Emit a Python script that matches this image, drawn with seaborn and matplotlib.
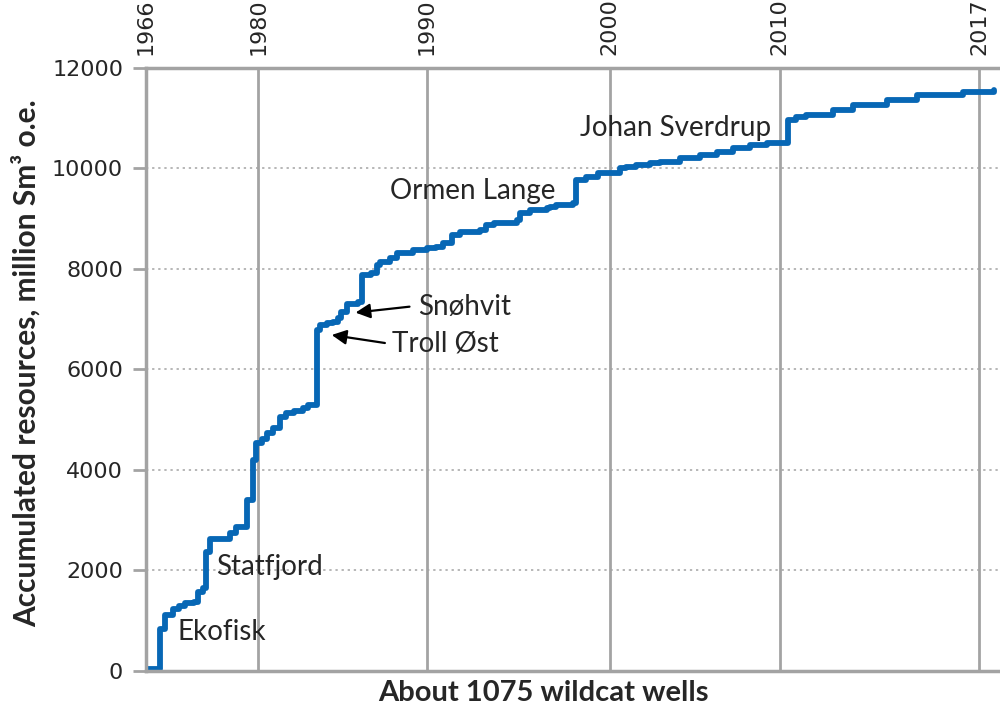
import numpy as np
import pandas as pd
import seaborn as sns
import matplotlib.pyplot as plt

# cumulative discovered resources, step after each wildcat well
wells = [0, 18, 24, 34, 42, 49, 60, 66, 72, 76, 81, 106, 114, 127, 135, 139,
         146, 152, 160, 169, 177, 186, 198, 204, 215, 219, 228, 236, 242, 246,
         253, 267, 272, 284, 291, 295, 307, 316, 337, 354, 366, 374, 385, 395,
         421, 429, 438, 467, 471, 484, 505, 509, 517, 538, 542, 555, 570, 597,
         605, 618, 635, 647, 673, 698, 719, 740, 761, 782, 809, 819, 832, 866,
         891, 933, 971, 1029, 1069]
resources = [30, 840, 1110, 1234, 1294, 1353, 1380, 1578, 1650, 2375, 2627,
             2746, 2872, 3403, 4199, 4537, 4620, 4736, 4836, 5061, 5141, 5181,
             5228, 5294, 6786, 6886, 6919, 6952, 7019, 7150, 7300, 7350, 7881,
             7914, 8080, 8146, 8212, 8312, 8378, 8411, 8444, 8511, 8677, 8743,
             8776, 8876, 8922, 8975, 9108, 9174, 9207, 9240, 9274, 9307, 9771,
             9837, 9904, 10004, 10036, 10070, 10103, 10136, 10203, 10269, 10335,
             10402, 10468, 10514, 10965, 11031, 11064, 11164, 11263, 11363,
             11462, 11529, 11562]

year_labels = ['1966', '1980', '1990', '2000', '2010', '2017']
year_wells = [0, 141.5, 353.5, 584, 798.5, 1049.5]

fields = ['Ekofisk', 'Statfjord', 'Ormen Lange', 'Johan Sverdrup']
field_x = [40, 88, 307, 547]
field_y = [776, 2070, 9552, 10806]

arrow_fields = ['Snøhvit', 'Troll Øst']
arrow_text_x = [343, 310]
arrow_text_y = [7244, 6527]
arrow_tail = [(332, 7250), (301, 6527)]
arrow_head = [(264, 7132), (234, 6687)]

df = pd.DataFrame({'well': wells, 'resources': resources})

sns.set_style('white')
plt.rcParams['font.family'] = ['DejaVu Sans']
grey = '#a3a3a3'

fig = plt.figure(figsize=(10, 7.18), dpi=100)
ax = fig.add_axes([0.146, 0.0655, 0.854, 0.8398])

sns.lineplot(data=df, x='well', y='resources', drawstyle='steps-post',
             estimator=None, color='#0767b5', lw=4.2, ax=ax)

ax.set_xlim(0, 1076)
ax.set_ylim(0, 12000)
ax.set_yticks(np.arange(0, 12001, 2000))
ax.tick_params(axis='y', labelsize=16, length=9.5, width=2, color=grey,
               pad=7, left=True)

ax.xaxis.tick_top()
ax.set_xticks(year_wells)
ax.set_xticklabels(year_labels, rotation=90)
ax.tick_params(axis='x', labelsize=16, length=0, pad=9)

ax.grid(axis='x', color=grey, lw=2, ls='-')
ax.grid(axis='y', color=grey, lw=1.1, ls=(0, (1.5, 2.5)))

for side in ['left', 'bottom', 'top']:
    ax.spines[side].set_color(grey)
    ax.spines[side].set_linewidth(2.5)
ax.spines['right'].set_visible(False)

ax.set_xlabel('About 1075 wildcat wells', fontsize=21, fontweight='bold',
              family='Lato')
ax.xaxis.set_label_position('bottom')
ax.xaxis.set_label_coords(0.465, -0.015)
ax.set_ylabel('Accumulated resources, million Sm³ o.e.', fontsize=21.5,
              fontweight='bold', family='Lato')
ax.yaxis.set_label_coords(-0.123, 0.51)

for name, x, y in zip(fields, field_x, field_y):
    ax.text(x, y, name, fontsize=20, family='Lato', va='center', ha='left')

for name, x, y, tail, head in zip(arrow_fields, arrow_text_x, arrow_text_y,
                                  arrow_tail, arrow_head):
    ax.text(x, y, name, fontsize=20, family='Lato', va='center', ha='left')
    ax.annotate('', xy=head, xytext=tail,
                arrowprops=dict(arrowstyle='-|>', color='black', lw=1.6,
                                mutation_scale=22, shrinkA=0, shrinkB=0))

fig.savefig('out.png', dpi=100)
